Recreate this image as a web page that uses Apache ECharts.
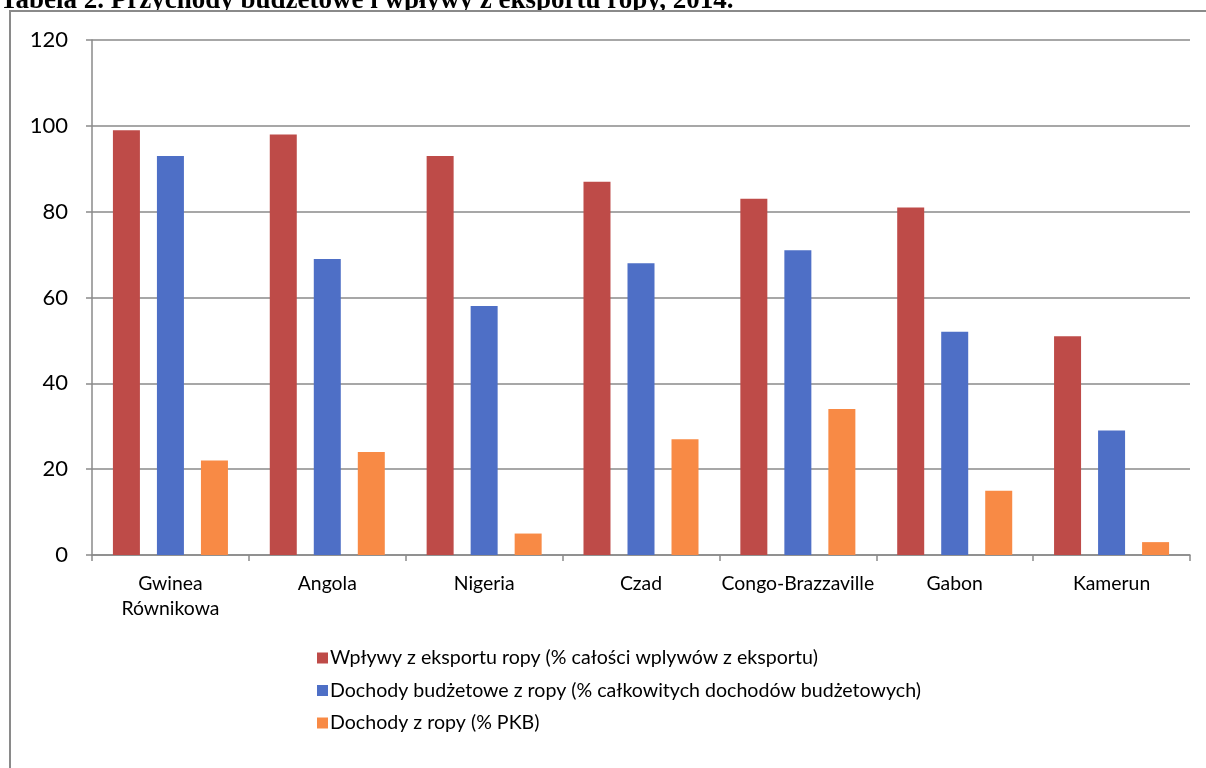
<!DOCTYPE html>
<html>
<head>
<meta charset="utf-8">
<style>
  html, body { margin: 0; padding: 0; background: #ffffff; }
  #chart { width: 1206px; height: 768px; }
</style>
<script src="https://cdn.jsdelivr.net/npm/echarts@6/dist/echarts.min.js"></script>
</head>
<body>
<div id="chart"></div>
<script>
const titleText = 'Tabela 2. Przychody budżetowe i wpływy z eksportu ropy, 2014.';
const categories = ['Gwinea\nRównikowa', 'Angola', 'Nigeria', 'Czad', 'Congo-Brazzaville', 'Gabon', 'Kamerun'];
const seriesNames = [
  'Wpływy z eksportu ropy (% całości wplywów z eksportu)',
  'Dochody budżetowe z ropy (% całkowitych dochodów budżetowych)',
  'Dochody z ropy (% PKB)'
];
const exportShare = [99, 98, 93, 87, 83, 81, 51];
const budgetShare = [93, 69, 58, 68, 71, 52, 29];
const gdpShare = [22, 24, 5, 27, 34, 15, 3];
const yTicks = { min: 0, max: 120, interval: 20 };

const colors = ['#BE4B48', '#4E6FC6', '#F88A45'];
const axisGray = '#8a8a8a';
const font = 'Lato';

const chart = echarts.init(document.getElementById('chart'), null, { renderer: 'canvas' });

const mkSeries = (name, data, color) => ({
  name: name,
  type: 'bar',
  data: data,
  barWidth: 27,
  barGap: '63%',
  itemStyle: { color: color },
  z: 3
});

chart.setOption({
  animation: false,
  backgroundColor: '#ffffff',
  graphic: [
    {
      type: 'text',
      z: -5,
      left: 0,
      top: -12,
      style: {
        text: titleText,
        fontFamily: 'Liberation Serif',
        fontWeight: 'bold',
        fontSize: 27,
        fill: '#000000'
      }
    },
    {
      type: 'rect',
      z: -4,
      shape: { x: 10, y: 11, width: 1210, height: 800 },
      style: { fill: '#ffffff', stroke: axisGray, lineWidth: 2 }
    }
  ],
  grid: { left: 92, right: 16, top: 40, bottom: 213, containLabel: false },
  legend: {
    orient: 'vertical',
    left: 312,
    top: 643,
    itemWidth: 11,
    itemHeight: 11,
    itemGap: 12.5,
    icon: 'rect',
    textStyle: { fontFamily: font, fontSize: 19.6, color: '#000000', padding: [0, 0, 0, -3] },
    data: seriesNames
  },
  xAxis: {
    type: 'category',
    data: categories,
    axisLine: { show: true, lineStyle: { color: axisGray, width: 1.5 } },
    axisTick: { show: true, length: 6, alignWithLabel: false, lineStyle: { color: axisGray, width: 1.5 } },
    axisLabel: { fontFamily: font, fontSize: 19.4, color: '#000000', margin: 16, lineHeight: 25, interval: 0 }
  },
  yAxis: {
    type: 'value',
    min: yTicks.min,
    max: yTicks.max,
    interval: yTicks.interval,
    axisLine: { show: true, lineStyle: { color: axisGray, width: 1.5 } },
    axisTick: { show: true, length: 6, lineStyle: { color: axisGray, width: 1.5 } },
    splitLine: { show: true, lineStyle: { color: axisGray, width: 1.5 } },
    axisLabel: { fontFamily: font, fontSize: 22, color: '#000000', margin: 24 }
  },
  series: [
    mkSeries(seriesNames[0], exportShare, colors[0]),
    mkSeries(seriesNames[1], budgetShare, colors[1]),
    mkSeries(seriesNames[2], gdpShare, colors[2])
  ]
});
</script>
</body>
</html>
